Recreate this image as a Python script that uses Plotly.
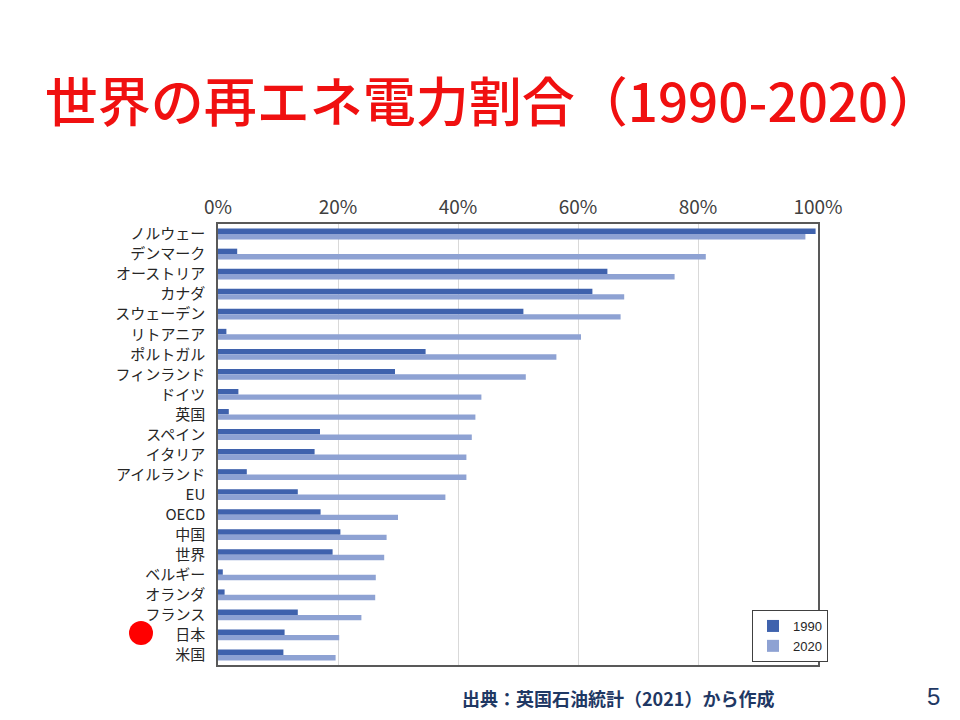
import plotly.graph_objs as go


FONT_JP = 'Noto Sans CJK JP'
NAVY = '#1F3864'

TITLE = '世界の再エネ電力割合（1990-2020）'
SOURCE_NOTE = '出典：英国石油統計（2021）から作成'
PAGE_NO = '5'

countries = [
    'ノルウェー', 'デンマーク', 'オーストリア', 'カナダ', 'スウェーデン',
    'リトアニア', 'ポルトガル', 'フィンランド', 'ドイツ', '英国', 'スペイン',
    'イタリア', 'アイルランド', 'EU', 'OECD', '中国', '世界', 'ベルギー',
    'オランダ', 'フランス', '日本', '米国',
]
share_1990 = [
    99.6, 3.2, 64.9, 62.4, 50.9, 1.4, 34.6, 29.5, 3.4, 1.8, 17.0,
    16.1, 4.8, 13.3, 17.1, 20.4, 19.1, 0.8, 1.1, 13.3, 11.1, 10.9,
]
share_2020 = [
    97.9, 81.3, 76.1, 67.7, 67.1, 60.5, 56.4, 51.3, 43.9, 42.9, 42.3,
    41.4, 41.4, 37.9, 30.0, 28.1, 27.7, 26.3, 26.2, 23.9, 20.2, 19.6,
]

# the page body adds an 8px margin, so figure coords = screen coords - 8
OFF = 8
PLOT_L, PLOT_R, PLOT_T, PLOT_B = 218, 818, 224, 665
PW, PH = PLOT_R - PLOT_L, PLOT_B - PLOT_T


def px(x):
    return (x - PLOT_L) / PW


def py(y):
    return (PLOT_B - y) / PH


fig = go.Figure()
fig.add_trace(go.Bar(
    y=countries,
    x=share_1990,
    name='1990',
    orientation='h',
    marker=dict(color='#3F62AD', line=dict(width=0)),
))
fig.add_trace(go.Bar(
    y=countries,
    x=share_2020,
    name='2020',
    orientation='h',
    marker=dict(color='#8EA2D3', line=dict(width=0)),
))

fig.update_layout(
    width=960,
    height=720,
    paper_bgcolor='white',
    plot_bgcolor='white',
    margin=dict(l=PLOT_L - OFF, r=960 - PLOT_R + OFF,
                t=PLOT_T - OFF, b=720 - PLOT_B + OFF),
    barmode='group',
    bargap=0.46,
    bargroupgap=0,
    title=dict(
        text=TITLE,
        font=dict(family=FONT_JP, size=53, color='#F01010', weight=500),
        x=(493 - OFF) / 960,
        xref='container',
        xanchor='center',
        y=1 - (103 - OFF) / 720,
        yanchor='middle',
    ),
    xaxis=dict(
        side='top',
        range=[0, 100],
        dtick=20,
        ticksuffix='%',
        showgrid=True,
        gridcolor='#D9D9D9',
        gridwidth=1,
        zeroline=False,
        showline=True,
        linecolor='#595959',
        linewidth=1.5,
        mirror=True,
        ticks='',
        ticklabelstandoff=1,
        tickfont=dict(family=FONT_JP, size=19, color='#404040'),
    ),
    yaxis=dict(
        autorange='reversed',
        showgrid=False,
        showline=True,
        linecolor='#595959',
        linewidth=1.5,
        mirror=True,
        ticks='',
        ticklabelstandoff=8,
        tickfont=dict(family=FONT_JP, size=15, color='#262626'),
    ),
    legend=dict(
        x=px(828),
        xanchor='right',
        y=py(610),
        yanchor='top',
        bgcolor='white',
        bordercolor='#404040',
        borderwidth=1,
        itemwidth=30,
        font=dict(family='Liberation Sans', size=13, color='#262626'),
        traceorder='normal',
        tracegroupgap=0,
    ),
    showlegend=True,
)

fig.add_annotation(
    text=SOURCE_NOTE,
    xref='paper', yref='paper',
    x=px(618), y=py(698),
    xanchor='center', yanchor='middle',
    showarrow=False,
    font=dict(family=FONT_JP, size=18, color=NAVY, weight='bold'),
)
fig.add_annotation(
    text=PAGE_NO,
    xref='paper', yref='paper',
    x=px(933), y=py(696),
    xanchor='center', yanchor='middle',
    showarrow=False,
    font=dict(family='Liberation Sans', size=24, color=NAVY),
)

# red marker next to Japan
fig.add_shape(
    type='circle',
    xref='paper', yref='paper',
    x0=px(129), x1=px(153),
    y0=py(645), y1=py(621),
    fillcolor='#FF0000',
    line=dict(width=0),
)

fig.write_html('out.html')
